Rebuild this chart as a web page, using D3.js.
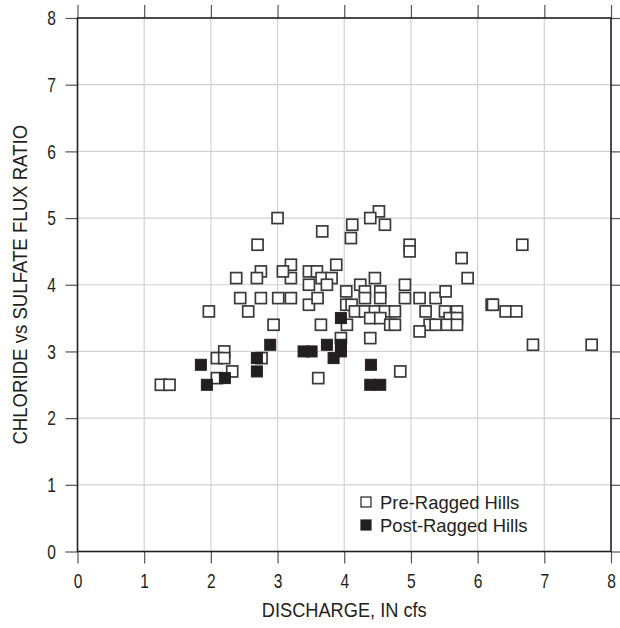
<!DOCTYPE html>
<html>
<head>
<meta charset="utf-8">
<script src="https://cdn.jsdelivr.net/npm/d3@7"></script>
<style>
  html, body { margin: 0; padding: 0; background: #fff; }
  svg text { font-family: "Liberation Sans", Arial, sans-serif; fill: #231f20; }
</style>
</head>
<body>
<svg id="chart" width="620" height="628"></svg>
<script>
// ---- data ----
const preX = [3.0, 2.7, 3.2, 3.2, 3.08, 2.75, 2.69, 2.38, 3.47, 3.47,
  2.44, 2.75, 3.01, 3.2, 3.47, 3.6, 1.97, 2.56, 2.94, 3.65,
  2.2, 2.09, 2.2, 2.76, 2.32, 2.09, 1.25, 1.38, 3.61, 4.52,
  4.39, 4.12, 4.61, 3.67, 4.1, 4.98, 4.98, 5.76, 3.88, 3.59,
  3.66, 3.81, 3.74, 4.24, 4.46, 4.91, 4.03, 4.31, 4.31, 4.54,
  4.54, 4.91, 5.13, 5.37, 5.52, 4.03, 4.11, 4.16, 4.31, 4.46,
  4.61, 4.76, 4.39, 4.54, 4.69, 4.76, 4.04, 5.22, 5.51, 5.69,
  5.58, 5.69, 5.28, 5.37, 5.54, 5.69, 5.13, 3.95, 4.39, 4.84,
  6.67, 5.85, 6.21, 6.23, 6.42, 6.58, 6.83, 7.71];
const preY = [5.0, 4.6, 4.3, 4.1, 4.2, 4.2, 4.1, 4.1, 4.2, 4.0,
  3.8, 3.8, 3.8, 3.8, 3.7, 3.8, 3.6, 3.6, 3.4, 3.4,
  3.0, 2.9, 2.9, 2.9, 2.7, 2.6, 2.5, 2.5, 2.6, 5.1,
  5.0, 4.9, 4.9, 4.8, 4.7, 4.6, 4.5, 4.4, 4.3, 4.2,
  4.1, 4.1, 4.0, 4.0, 4.1, 4.0, 3.9, 3.9, 3.8, 3.9,
  3.8, 3.8, 3.8, 3.8, 3.9, 3.7, 3.7, 3.6, 3.6, 3.6,
  3.6, 3.6, 3.5, 3.5, 3.4, 3.4, 3.4, 3.6, 3.6, 3.6,
  3.5, 3.5, 3.4, 3.4, 3.4, 3.4, 3.3, 3.2, 3.2, 2.7,
  4.6, 4.1, 3.7, 3.7, 3.6, 3.6, 3.1, 3.1];
const postX = [2.89, 3.39, 3.51, 2.69, 1.85, 2.69, 2.21, 1.94, 3.95, 3.95,
  3.95, 3.74, 3.84, 4.4, 4.39, 4.54];
const postY = [3.1, 3.0, 3.0, 2.9, 2.8, 2.7, 2.6, 2.5, 3.5, 3.1,
  3.0, 3.1, 2.9, 2.8, 2.5, 2.5];
const xTicks = [0, 1, 2, 3, 4, 5, 6, 7, 8];
const yTicks = [0, 1, 2, 3, 4, 5, 6, 7, 8];
const seriesNames = ["Pre-Ragged Hills", "Post-Ragged Hills"];
const xTitle = "DISCHARGE, IN cfs";
const yTitle = "CHLORIDE vs SULFATE FLUX RATIO";

// ---- layout ----
const svg = d3.select("#chart");
const pL = 77.5, pR = 611, pT = 18, pB = 551.5;
const x = d3.scaleLinear().domain([0, 8]).range([pL, pR]);
const y = d3.scaleLinear().domain([0, 8]).range([pB, pT]);
const dark = "#231f20";

// condensed look: squeeze text horizontally
function condense(sel, k) {
  sel.each(function () {
    const w = this.getComputedTextLength();
    d3.select(this).attr("textLength", w * k).attr("lengthAdjust", "spacingAndGlyphs");
  });
}

// gridlines
const grid = svg.append("g");
grid.selectAll("line.v").data(xTicks.slice(1, -1)).join("line")
  .attr("x1", d => x(d)).attr("x2", d => x(d))
  .attr("y1", pT).attr("y2", pB)
  .attr("stroke", "#d2d2d2").attr("stroke-width", 1.2);
grid.selectAll("line.h").data(yTicks.slice(1, -1)).join("line")
  .attr("y1", d => y(d)).attr("y2", d => y(d))
  .attr("x1", pL).attr("x2", pR)
  .attr("stroke", "#d2d2d2").attr("stroke-width", 1.2);

// axes
const xAxis = svg.append("g").attr("transform", `translate(0,${pB})`)
  .call(d3.axisBottom(x).tickValues(xTicks).tickSize(12).tickPadding(9.5).tickFormat(d3.format("d")));
const yAxis = svg.append("g").attr("transform", `translate(${pL},0)`)
  .call(d3.axisLeft(y).tickValues(yTicks).tickSize(12).tickPadding(9.5).tickFormat(d3.format("d")));
const xTop = svg.append("g").attr("transform", `translate(0,${pT})`)
  .call(d3.axisTop(x).tickValues(xTicks).tickSize(13).tickFormat(""));
const yRight = svg.append("g").attr("transform", `translate(${pR},0)`)
  .call(d3.axisRight(y).tickValues(yTicks).tickSize(10).tickFormat(""));
[xAxis, yAxis, xTop, yRight].forEach(g => {
  g.select(".domain").remove();
  g.selectAll(".tick line").attr("stroke", "#555").attr("stroke-width", 1.2);
  g.selectAll(".tick text").attr("font-size", 21).attr("fill", "#333")
    .style("font-family", '"Liberation Sans", Arial, sans-serif');
});
condense(xAxis.selectAll(".tick text"), 0.74);
condense(yAxis.selectAll(".tick text"), 0.74);

// frame
svg.append("rect").attr("x", pL).attr("y", pT)
  .attr("width", pR - pL).attr("height", pB - pT)
  .attr("fill", "none").attr("stroke", dark).attr("stroke-width", 1.6);

// markers
const sz = 11;
svg.append("g").selectAll("rect").data(preX.map((v, i) => [v, preY[i]])).join("rect")
  .attr("x", d => x(d[0]) - sz / 2).attr("y", d => y(d[1]) - sz / 2)
  .attr("width", sz).attr("height", sz)
  .attr("fill", "#fff").attr("stroke", "#3a3a3a").attr("stroke-width", 1.7);
svg.append("g").selectAll("rect").data(postX.map((v, i) => [v, postY[i]])).join("rect")
  .attr("x", d => x(d[0]) - sz / 2).attr("y", d => y(d[1]) - sz / 2)
  .attr("width", sz).attr("height", sz)
  .attr("fill", dark).attr("stroke", dark).attr("stroke-width", 1);

// legend
const lg = svg.append("g").attr("transform", "translate(366,502)");
seriesNames.forEach((name, i) => {
  const gy = i * 23;
  lg.append("rect").attr("x", -5).attr("y", gy - 5).attr("width", 10).attr("height", 10)
    .attr("fill", i === 0 ? "#fff" : dark).attr("stroke", dark).attr("stroke-width", 1.2);
  const t = lg.append("text").attr("x", 14).attr("y", gy + 7).attr("font-size", 19).text(name);
  condense(t, 0.97);
});

// titles
const xt = svg.append("text").attr("x", (pL + pR) / 2).attr("y", 617)
  .attr("text-anchor", "middle").attr("font-size", 20).text(xTitle);
condense(xt, 0.91);
const yt = svg.append("text").attr("transform", `translate(27,${(pT + pB) / 2}) rotate(-90)`)
  .attr("text-anchor", "middle").attr("font-size", 20).text(yTitle);
condense(yt, 0.93);
</script>
</body>
</html>
